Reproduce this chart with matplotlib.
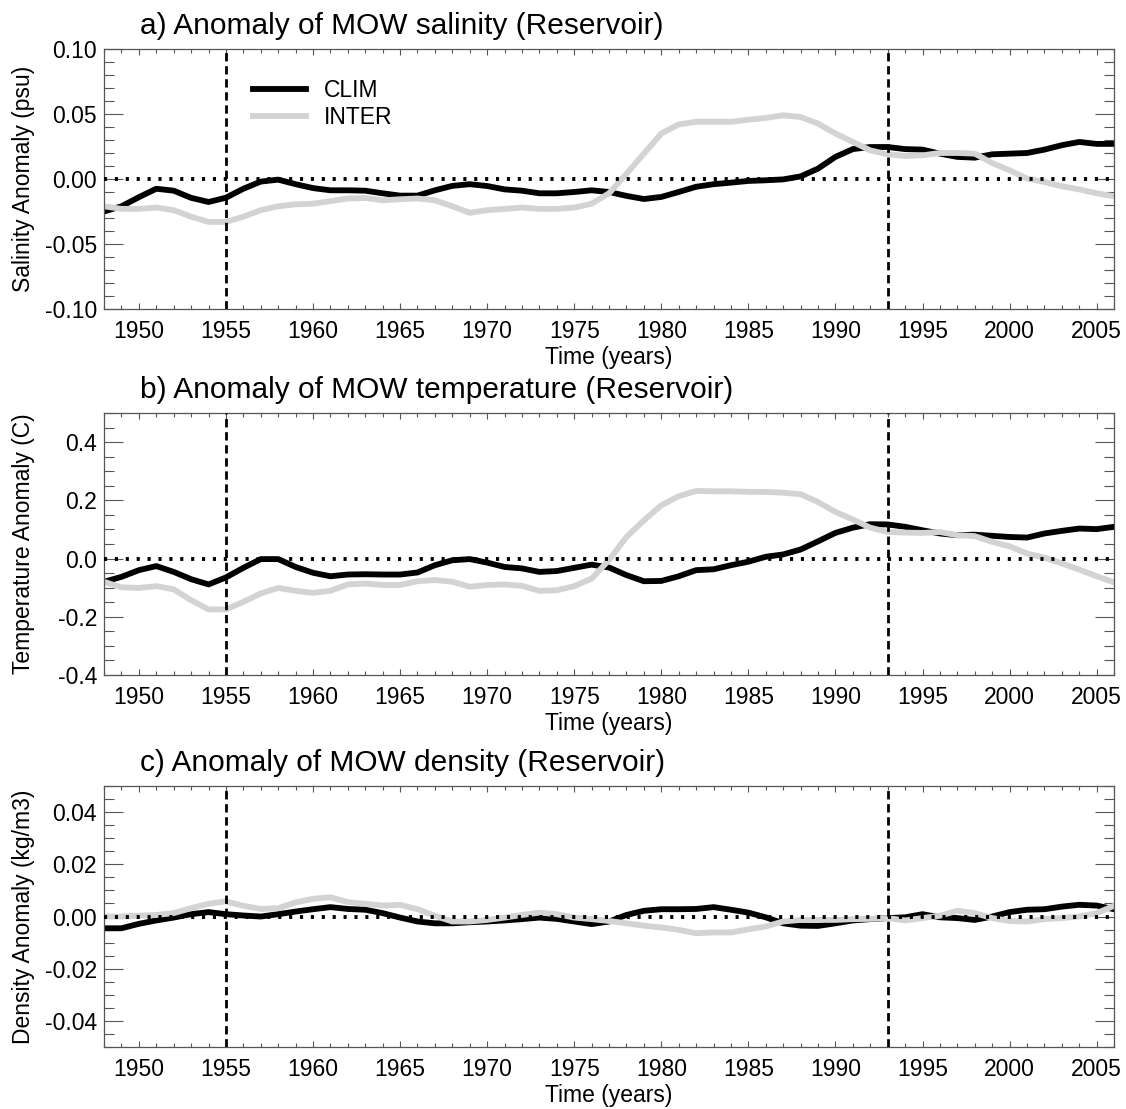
import numpy as np
import matplotlib
matplotlib.use('Agg')
import matplotlib.pyplot as plt
from matplotlib.ticker import MultipleLocator, FormatStrFormatter

plt.rcParams['font.family'] = ['Liberation Sans', 'DejaVu Sans']

# ---- data ----
years = np.arange(1948, 2007)

sal_clim = [-0.025, -0.021, -0.014, -0.0075, -0.009, -0.0145, -0.0177, -0.0144, -0.0075, -0.002,
            -0.0005, -0.004, -0.007, -0.0087, -0.0087, -0.009, -0.011, -0.0128, -0.0128, -0.0087,
            -0.0053, -0.004, -0.0054, -0.008, -0.009, -0.011, -0.011, -0.010, -0.0087, -0.010,
            -0.013, -0.0154, -0.0138, -0.010, -0.006, -0.004, -0.0028, -0.0015, -0.001, -0.0003,
            0.002, 0.008, 0.017, 0.023, 0.0246, 0.0246, 0.023, 0.0226, 0.0195, 0.017,
            0.0164, 0.019, 0.0195, 0.020, 0.0226, 0.026, 0.0285, 0.027, 0.027]
sal_inter = [-0.021, -0.023, -0.023, -0.022, -0.024, -0.029, -0.033, -0.033, -0.029, -0.024,
             -0.021, -0.0195, -0.019, -0.017, -0.015, -0.0146, -0.0164, -0.0156, -0.015, -0.0164,
             -0.021, -0.026, -0.024, -0.023, -0.022, -0.023, -0.023, -0.022, -0.019, -0.011,
             0.004, 0.0195, 0.035, 0.042, 0.044, 0.044, 0.044, 0.0456, 0.047, 0.049,
             0.0477, 0.0426, 0.035, 0.0285, 0.022, 0.019, 0.0177, 0.0182, 0.020, 0.020,
             0.0195, 0.0123, 0.0067, 0.0003, -0.0023, -0.0056, -0.008, -0.011, -0.0133]

temp_clim = [-0.080, -0.063, -0.040, -0.026, -0.046, -0.071, -0.089, -0.065, -0.032, -0.002,
             -0.002, -0.029, -0.049, -0.061, -0.055, -0.054, -0.055, -0.055, -0.048, -0.023,
             -0.006, -0.002, -0.014, -0.029, -0.034, -0.046, -0.043, -0.032, -0.021, -0.031,
             -0.057, -0.078, -0.077, -0.061, -0.040, -0.037, -0.023, -0.011, 0.006, 0.014,
             0.031, 0.059, 0.088, 0.106, 0.118, 0.117, 0.109, 0.097, 0.086, 0.080,
             0.082, 0.078, 0.074, 0.072, 0.086, 0.095, 0.103, 0.101, 0.109]
temp_inter = [-0.080, -0.099, -0.101, -0.095, -0.106, -0.143, -0.175, -0.175, -0.149, -0.120,
              -0.101, -0.111, -0.118, -0.111, -0.089, -0.086, -0.091, -0.091, -0.078, -0.074,
              -0.080, -0.097, -0.091, -0.089, -0.094, -0.111, -0.109, -0.095, -0.069, -0.005,
              0.074, 0.131, 0.183, 0.214, 0.232, 0.231, 0.231, 0.229, 0.229, 0.226,
              0.221, 0.194, 0.160, 0.134, 0.106, 0.091, 0.089, 0.088, 0.091, 0.080,
              0.077, 0.057, 0.042, 0.017, 0.003, -0.017, -0.038, -0.061, -0.082]

dens_clim = [-0.0045, -0.0045, -0.0028, -0.0015, -0.0004, 0.0009, 0.0017, 0.0009, 0.0004, 0.0,
             0.0009, 0.0019, 0.0028, 0.0036, 0.0029, 0.0026, 0.0013, -0.0004, -0.0019, -0.0026,
             -0.0026, -0.0022, -0.0019, -0.0015, -0.001, -0.0004, -0.0009, -0.0019, -0.0029, -0.0019,
             0.0006, 0.0022, 0.0028, 0.0028, 0.0029, 0.0036, 0.0026, 0.0015, -0.0003, -0.0026,
             -0.0035, -0.0036, -0.0026, -0.0015, -0.001, -0.0006, -0.0003, 0.0009, -0.0003, -0.0006,
             -0.0013, 0.0, 0.0017, 0.0026, 0.0028, 0.0038, 0.0045, 0.0042, 0.0028]
dens_inter = [0.0, 0.0, 0.0003, 0.0006, 0.0013, 0.0032, 0.0049, 0.0058, 0.0041, 0.0029,
              0.0032, 0.0054, 0.0068, 0.0074, 0.0055, 0.0049, 0.0042, 0.0045, 0.0028, 0.0003,
              -0.0019, -0.0019, -0.0013, -0.0004, 0.0006, 0.0015, 0.0009, -0.0004, -0.001, -0.0017,
              -0.0026, -0.0035, -0.0042, -0.0051, -0.0064, -0.0061, -0.0061, -0.0049, -0.0038, -0.0019,
              -0.0013, -0.0013, -0.0013, -0.001, -0.0009, -0.0006, -0.0015, -0.0006, 0.0003, 0.0022,
              0.0013, -0.0006, -0.0017, -0.0019, -0.001, -0.0006, 0.0, 0.0013, 0.0041]

event_years = [1955, 1993]

panels = [
    ('a) Anomaly of MOW salinity (Reservoir)', 'Salinity Anomaly (psu)',
     sal_clim, sal_inter, (-0.1, 0.1), 0.05, 0.01, '%.2f'),
    ('b) Anomaly of MOW temperature (Reservoir)', 'Temperature Anomaly (C)',
     temp_clim, temp_inter, (-0.4, 0.5), 0.2, 0.05, '%.1f'),
    ('c) Anomaly of MOW density (Reservoir)', 'Density Anomaly (kg/m3)',
     dens_clim, dens_inter, (-0.05, 0.05), 0.02, 0.005, '%.2f'),
]

TICK_FONT = 16.5
LABEL_FONT = 16.5
TITLE_FONT = 21.5
FRAME = '#555555'

fig = plt.figure(figsize=(11.26, 11.09), dpi=100)
boxes = [[0.0924, 0.7214, 0.897, 0.2344],
         [0.0924, 0.3914, 0.897, 0.2362],
         [0.0924, 0.0559, 0.897, 0.2353]]

for k, (title, ylab, clim, inter, ylim, major, minor, fmt) in enumerate(panels):
    ax = fig.add_axes(boxes[k])
    ax.plot(years, clim, color='black', lw=4.2, label='CLIM', solid_joinstyle='round')
    ax.plot(years, inter, color='#d3d3d3', lw=4.2, label='INTER', solid_joinstyle='round')
    ax.axhline(0, color='black', lw=2.8, linestyle=(0, (0.8, 2.0)), zorder=5)
    for ey in event_years:
        ax.axvline(ey, color='black', lw=2, linestyle=(0, (3.0, 1.7)), zorder=5)

    ax.set_xlim(1948, 2006)
    ax.set_ylim(*ylim)
    ax.xaxis.set_major_locator(MultipleLocator(5))
    ax.xaxis.set_minor_locator(MultipleLocator(1))
    ax.yaxis.set_major_locator(MultipleLocator(major))
    ax.yaxis.set_minor_locator(MultipleLocator(minor))
    ax.yaxis.set_major_formatter(FormatStrFormatter(fmt))

    ax.tick_params(axis='both', which='both', direction='in', top=True, right=True,
                   color=FRAME, width=0.8, labelsize=TICK_FONT)
    ax.tick_params(axis='y', which='major', length=14, pad=5)
    ax.tick_params(axis='y', which='minor', length=7)
    ax.tick_params(axis='x', which='major', length=4.5, pad=8)
    ax.tick_params(axis='x', which='minor', length=3)
    for sp in ax.spines.values():
        sp.set_color(FRAME)
        sp.set_linewidth(0.9)

    ax.set_xlabel('Time (years)', fontsize=LABEL_FONT, labelpad=2)
    ax.set_ylabel(ylab, fontsize=LABEL_FONT)
    ax.yaxis.set_label_coords(-0.068, 0.5)
    ax.text(0.036, 1.058, title, transform=ax.transAxes, fontsize=TITLE_FONT,
            ha='left', va='baseline')

    if k == 0:
        ax.legend(loc='upper left', bbox_to_anchor=(0.1475, 0.885), frameon=False,
                  fontsize=LABEL_FONT, handlelength=2.3, handletextpad=0.8,
                  labelspacing=0.2, borderpad=0, borderaxespad=0)

fig.savefig('out.png', dpi=100)
